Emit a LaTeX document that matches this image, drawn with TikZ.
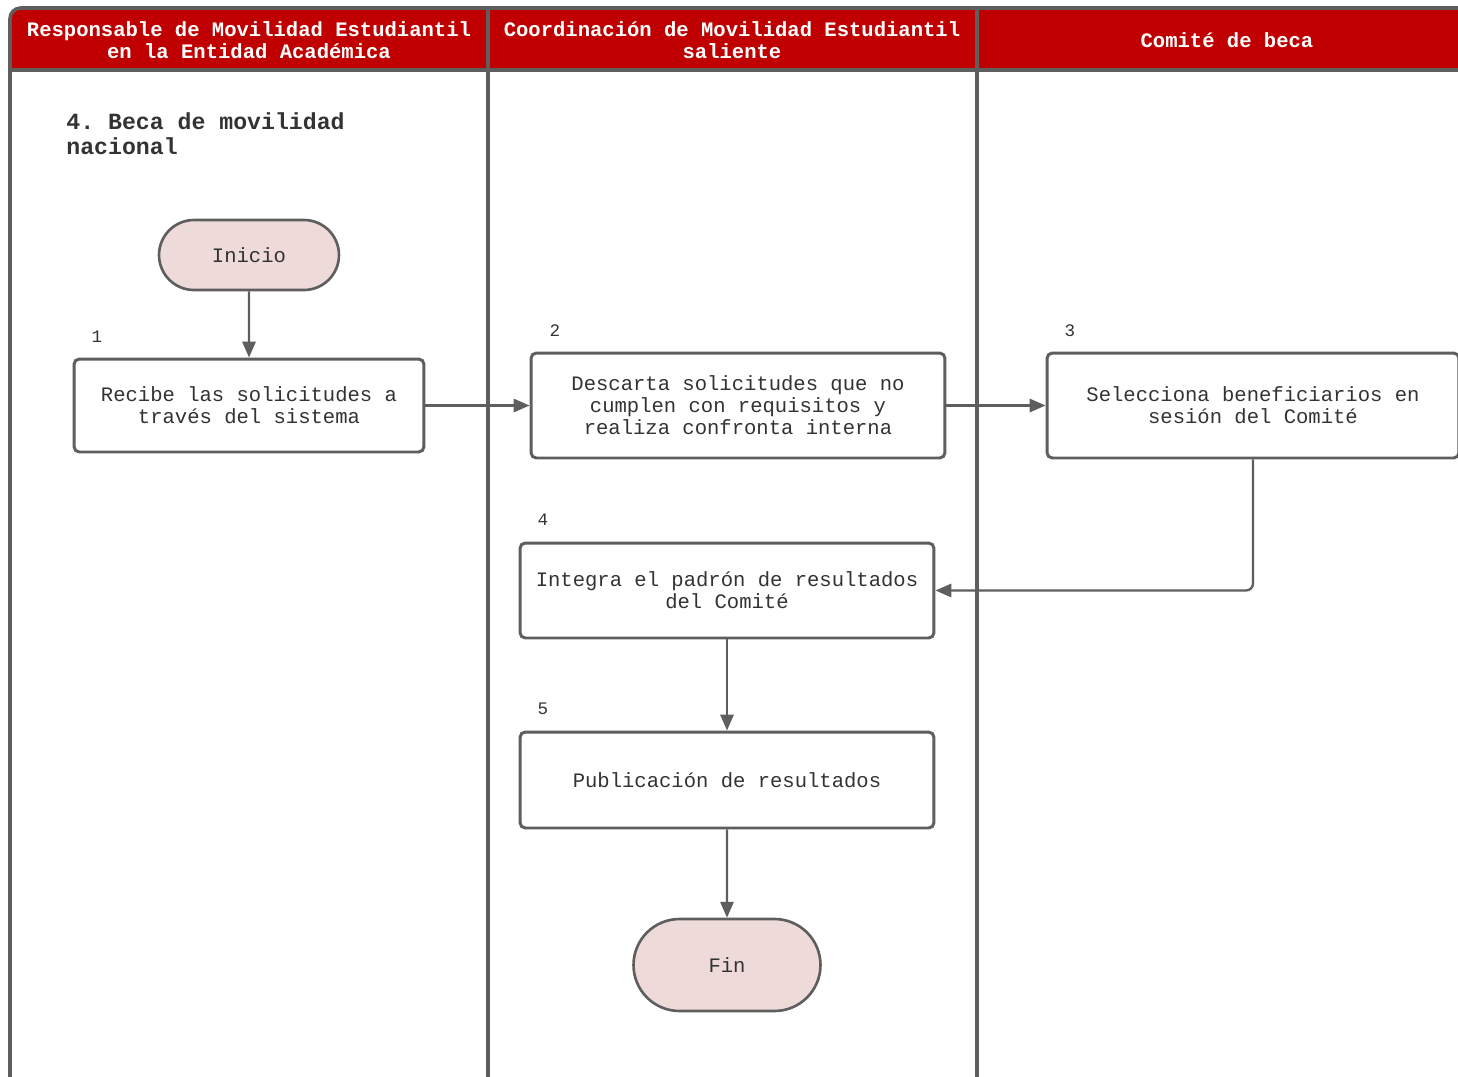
\documentclass[tikz,border=0pt]{standalone}
\usepackage{fontspec}
\setmonofont{Liberation Mono}
\usetikzlibrary{arrows.meta,shapes.misc}
\definecolor{rojocab}{RGB}{192,0,0}
\definecolor{linea}{RGB}{94,94,94}
\definecolor{texto}{RGB}{51,51,51}
\definecolor{rosa}{RGB}{239,218,218}

\begin{document}
\begin{tikzpicture}[x=0.02cm,y=-0.02cm,
        paso/.style={draw=linea,line width=1.7pt,rounded corners=3pt,fill=white,align=center,text=texto,inner sep=0pt,font=\ttfamily\fontsize{11.7}{12.5}\selectfont},
        terminal/.style={rounded rectangle,draw=linea,line width=1.5pt,fill=rosa,text=texto,inner sep=0pt,font=\ttfamily\fontsize{11.7}{12.5}\selectfont},
        flecha/.style={draw=linea,line width=1.3pt,-{Triangle[length=9pt,width=7.5pt]}},
        numero/.style={text=texto,font=\ttfamily\fontsize{10}{12}\selectfont},
        carril/.style={text=white,align=center,font=\ttfamily\bfseries\fontsize{11.7}{12.5}\selectfont}]
        \useasboundingbox (0,0) rectangle (1458,1076);

        % carriles
        \fill[rojocab,rounded corners=6pt] (10,70) |- (1490,8) [sharp corners] |- (10,70) -- cycle;
        \draw[linea,line width=2pt,rounded corners=6pt] (10,1100) rectangle (1490,8);
        \draw[linea,line width=2pt] (10,70) -- (1490,70);
        \draw[linea,line width=2pt] (488,8) -- (488,1100);
        \draw[linea,line width=2pt] (977,8) -- (977,1100);

        \node[carril] (c1) at (249,40) {Responsable de Movilidad Estudiantil\\en la Entidad Académica};
        \node[carril] (c2) at (732,40) {Coordinación de Movilidad Estudiantil\\saliente};
        \node[carril] (c3) at (1227,40) {Comité de beca};

        \node[anchor=west,align=left,inner sep=0pt,text=texto,font=\ttfamily\bfseries\fontsize{13.2}{14.2}\selectfont] (titulo) at (66,134) {4. Beca de movilidad\\nacional};

        % pasos
        \node[terminal,minimum width=3.6cm,minimum height=1.4cm] (inicio) at (249,255) {Inicio};
        \node[paso,minimum width=7cm,minimum height=1.86cm] (s1) at (249,405.5) {Recibe las solicitudes a\\través del sistema};
        \node[paso,minimum width=8.28cm,minimum height=2.1cm] (s2) at (738,405.5) {Descarta solicitudes que no\\cumplen con requisitos y\\realiza confronta interna};
        \node[paso,minimum width=8.24cm,minimum height=2.1cm] (s3) at (1253,405.5) {Selecciona beneficiarios en\\sesión del Comité};
        \node[paso,minimum width=8.28cm,minimum height=1.9cm] (s4) at (727,590.5) {Integra el padrón de resultados\\del Comité};
        \node[paso,minimum width=8.28cm,minimum height=1.92cm] (s5) at (727,780) {Publicación de resultados};
        \node[terminal,minimum width=3.74cm,minimum height=1.84cm] (fin) at (727,965) {Fin};

        \node[numero] (n1) at (97,337) {1};
        \node[numero] (n2) at (555,331) {2};
        \node[numero] (n3) at (1070,331) {3};
        \node[numero] (n4) at (543,520) {4};
        \node[numero] (n5) at (543,709) {5};

        % flujo
        \draw[flecha] (inicio) -- (s1);
        \draw[flecha] (s1) -- (s2);
        \draw[flecha] (s2) -- (s3);
        \draw[flecha,rounded corners=4pt] (s3.south) |- (s4.east);
        \draw[flecha] (s4) -- (s5);
        \draw[flecha] (s5) -- (fin);

    \end{tikzpicture}
\end{document}
